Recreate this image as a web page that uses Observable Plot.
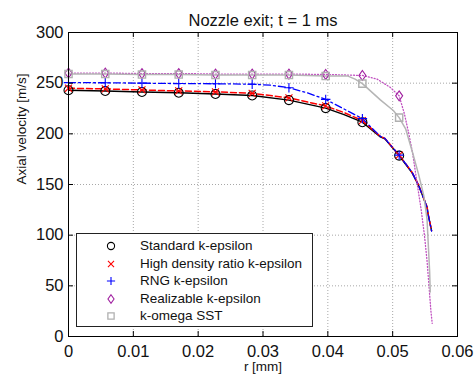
<!DOCTYPE html>
<html>
<head>
<meta charset="utf-8">
<script src="https://cdn.jsdelivr.net/npm/d3@7"></script>
<script src="https://cdn.jsdelivr.net/npm/@observablehq/plot@0.6"></script>
<style>
  html, body { margin: 0; padding: 0; background: white; }
  #wrap { position: relative; width: 475px; height: 381px; font-family: "Liberation Sans", Arial, Helvetica, sans-serif; }
  #legend { position: absolute; left: 76px; top: 233px; width: 235px; height: 92px; border: 1px solid #222; background: white; }
  .row { position: absolute; left: 0; height: 18px; width: 100%; }
  .row svg { position: absolute; left: 25px; top: 0; }
  .row span { position: absolute; left: 63px; top: 0; line-height: 18px; font-size: 13.5px; color: #111; white-space: nowrap; }
</style>
</head>
<body>
<div id="wrap"></div>
<script>
// ---- data ----
const titleText = "Nozzle exit; t = 1 ms";
const xLabel = "r [mm]";
const yLabel = "Axial velocity [m/s]";

const xTicks = [0, 0.01, 0.02, 0.03, 0.04, 0.05, 0.06];
const xTickLabels = ["0", "0.01", "0.02", "0.03", "0.04", "0.05", "0.06"];
const yTicks = [0, 50, 100, 150, 200, 250, 300];
const yTickLabels = ["0", "50", "100", "150", "200", "250", "300"];

const seriesNames = ["Standard k-epsilon", "High density ratio k-epsilon", "RNG k-epsilon", "Realizable k-epsilon", "k-omega SST"];

// marker positions (r, mm) and marker values (m/s)
const markerR = [0, 0.00567, 0.01133, 0.017, 0.02267, 0.02833, 0.034, 0.03967, 0.04533, 0.051];
const standardV   = [243, 242.3, 241.3, 240.5, 239.3, 237.8, 233.3, 225.4, 211.5, 178.5];
const highDensityV = [245, 244.3, 243.3, 242.3, 241.5, 240, 235.5, 227.5, 213, 179];
const rngV        = [250.5, 250.4, 250, 249.6, 249.4, 249, 245.5, 234, 215, 179];
const realizableV = [260, 260, 259.5, 259.5, 259, 259, 259, 258.6, 257.6, 237.5];
const sstV        = [259, 259, 258.5, 258.5, 258, 258, 258, 257, 249.5, 216];

// extra curve points between / beyond the markers
const standardExtraR = [0.0425, 0.0481, 0.0488, 0.052, 0.053, 0.054, 0.0548, 0.0553, 0.0555, 0.0560];
const standardExtraV = [219, 197, 195, 170, 161.5, 149, 136, 127.5, 119.5, 104.5];
const highDensityExtraR = [0.0425, 0.0481, 0.0488, 0.052, 0.053, 0.054, 0.0548, 0.0553, 0.0555, 0.0560];
const highDensityExtraV = [221, 197.5, 195.5, 170.5, 162, 149.5, 136.5, 128, 120, 104.5];
const rngExtraR = [0.0312, 0.0368, 0.0425, 0.0481, 0.0488, 0.052, 0.053, 0.054, 0.0548, 0.0553, 0.0555, 0.0560];
const rngExtraV = [248, 240.5, 224.5, 197.5, 195.5, 170.5, 162, 149, 136, 127.5, 119.5, 104];
const realizableExtraR = [0.0476, 0.0496, 0.0518, 0.0525, 0.0531, 0.0538, 0.0544, 0.0549, 0.0553, 0.0556, 0.0559, 0.0561];
const realizableExtraV = [254, 246, 220, 200, 180, 150, 125, 100, 75, 50, 25, 13];
const sstExtraR = [0.0431, 0.0442, 0.0481, 0.0501, 0.052, 0.053, 0.054, 0.0548, 0.0553, 0.0555, 0.0557, 0.0558];
const sstExtraV = [257, 254, 233.5, 223, 205, 183, 160, 139, 116, 90, 64, 44];

// ---- build tables ----
function curve(mv, er, ev) {
  const pts = markerR.map((r, i) => ({r, v: mv[i]})).concat(er.map((r, i) => ({r, v: ev[i]})));
  return pts.sort((a, b) => a.r - b.r);
}
function marks(mv) { return markerR.map((r, i) => ({r, v: mv[i]})); }

const symCircle = d3.symbolCircle;
const symTimes = {draw(c, s) { const a = Math.sqrt(s / Math.PI) * 0.78; c.moveTo(-a, -a); c.lineTo(a, a); c.moveTo(-a, a); c.lineTo(a, -a); }};
const symPlus = {draw(c, s) { const a = Math.sqrt(s / Math.PI) * 1.05; c.moveTo(0, -a); c.lineTo(0, a); c.moveTo(-a, 0); c.lineTo(a, 0); }};
const symDiamond = {draw(c, s) { const a = Math.sqrt(s / Math.PI); c.moveTo(0, -a * 1.1); c.lineTo(a * 0.78, 0); c.lineTo(0, a * 1.1); c.lineTo(-a * 0.78, 0); c.closePath(); }};
const symSquare = {draw(c, s) { const a = Math.sqrt(s / Math.PI) * 0.8; c.rect(-a, -a, 2 * a, 2 * a); }};

const series = [
  {name: seriesNames[0], line: curve(standardV, standardExtraR, standardExtraV), pts: marks(standardV), color: "#000000", lw: 1.4, dash: null, sym: symCircle, mcolor: "#000000"},
  {name: seriesNames[1], line: curve(highDensityV, highDensityExtraR, highDensityExtraV), pts: marks(highDensityV), color: "#ff0000", lw: 1.5, dash: "6,3", sym: symTimes, mcolor: "#ff0000"},
  {name: seriesNames[2], line: curve(rngV, rngExtraR, rngExtraV), pts: marks(rngV), color: "#0000ff", lw: 1.3, dash: "7,3,2,3", sym: symPlus, mcolor: "#0000ff"},
  {name: seriesNames[3], line: curve(realizableV, realizableExtraR, realizableExtraV), pts: marks(realizableV), color: "#c050c0", lw: 1.3, dash: "1,2", sym: symDiamond, mcolor: "#a020a0"},
  {name: seriesNames[4], line: curve(sstV, sstExtraR, sstExtraV), pts: marks(sstV), color: "#b5b5b5", lw: 1.5, dash: null, sym: symSquare, mcolor: "#b0b0b0"}
];

const font = "Liberation Sans, Arial, Helvetica, sans-serif";
const markList = [
  Plot.gridX(xTicks, {stroke: "#a8a8a8", strokeOpacity: 1, strokeDasharray: "1,2"}),
  Plot.gridY(yTicks, {stroke: "#a8a8a8", strokeOpacity: 1, strokeDasharray: "1,2"})
];
for (const s of series) {
  markList.push(Plot.line(s.line, {x: "r", y: "v", stroke: s.color, strokeWidth: s.lw, strokeDasharray: s.dash, curve: "linear"}));
}
for (const s of series) {
  markList.push(Plot.dot(s.pts, {x: "r", y: "v", symbol: () => s.sym, r: 4.5, stroke: s.mcolor, fill: "none", strokeWidth: s.sym === symSquare ? 1.4 : 1.1}));
}
markList.push(
  Plot.frame({stroke: "#000", strokeWidth: 1}),
  Plot.ruleX(xTicks, {x: d => d, insetTop: 299, stroke: "#000"}),
  Plot.ruleX(xTicks, {x: d => d, insetBottom: 299, stroke: "#000"}),
  Plot.ruleY(yTicks, {y: d => d, insetRight: 384, stroke: "#000"}),
  Plot.ruleY(yTicks, {y: d => d, insetLeft: 384, stroke: "#000"}),
  Plot.axisX(xTicks, {tickSize: 0, tickPadding: 9, fontSize: 16.5, tickFormat: (d) => xTickLabels[xTicks.indexOf(d)], label: null, fill: "#111"}),
  Plot.axisY(yTicks, {tickSize: 0, tickPadding: 5, fontSize: 16.5, tickFormat: (d) => yTickLabels[yTicks.indexOf(d)], label: null, fill: "#111"}),
  Plot.text([titleText], {frameAnchor: "top", dy: -18, fontSize: 16.5, fill: "#111"}),
  Plot.text([xLabel], {frameAnchor: "bottom", dy: 34, fontSize: 13.5, fill: "#111"}),
  Plot.text([yLabel], {frameAnchor: "left", dx: -47, rotate: -90, fontSize: 13.5, fill: "#111"})
);

const chart = Plot.plot({
  width: 475, height: 381,
  marginTop: 32, marginBottom: 45, marginLeft: 68, marginRight: 18,
  x: {domain: [0, 0.06], axis: null},
  y: {domain: [0, 300], axis: null},
  style: {fontFamily: font, background: "white", overflow: "visible"},
  marks: markList
});

const wrap = document.getElementById("wrap");
wrap.appendChild(chart);

// legend (markers only, as in the reference)
const legend = document.createElement("div");
legend.id = "legend";
const rowTops = [3, 20.5, 38, 55.5, 73];
series.forEach((s, i) => {
  const row = document.createElement("div");
  row.className = "row";
  row.style.top = rowTops[i] + "px";
  const svg = d3.create("svg").attr("width", 18).attr("height", 18);
  const size = Math.PI * (s.sym === symCircle ? 3.6 : 3.9) ** 2;
  svg.append("path")
    .attr("transform", "translate(9,9)")
    .attr("d", d3.symbol(s.sym, size)())
    .attr("fill", "none")
    .attr("stroke", s.mcolor)
    .attr("stroke-width", s.sym === symSquare ? 1.3 : 1.1);
  row.appendChild(svg.node());
  const span = document.createElement("span");
  span.textContent = s.name;
  row.appendChild(span);
  legend.appendChild(row);
});
wrap.appendChild(legend);
</script>
</body>
</html>
